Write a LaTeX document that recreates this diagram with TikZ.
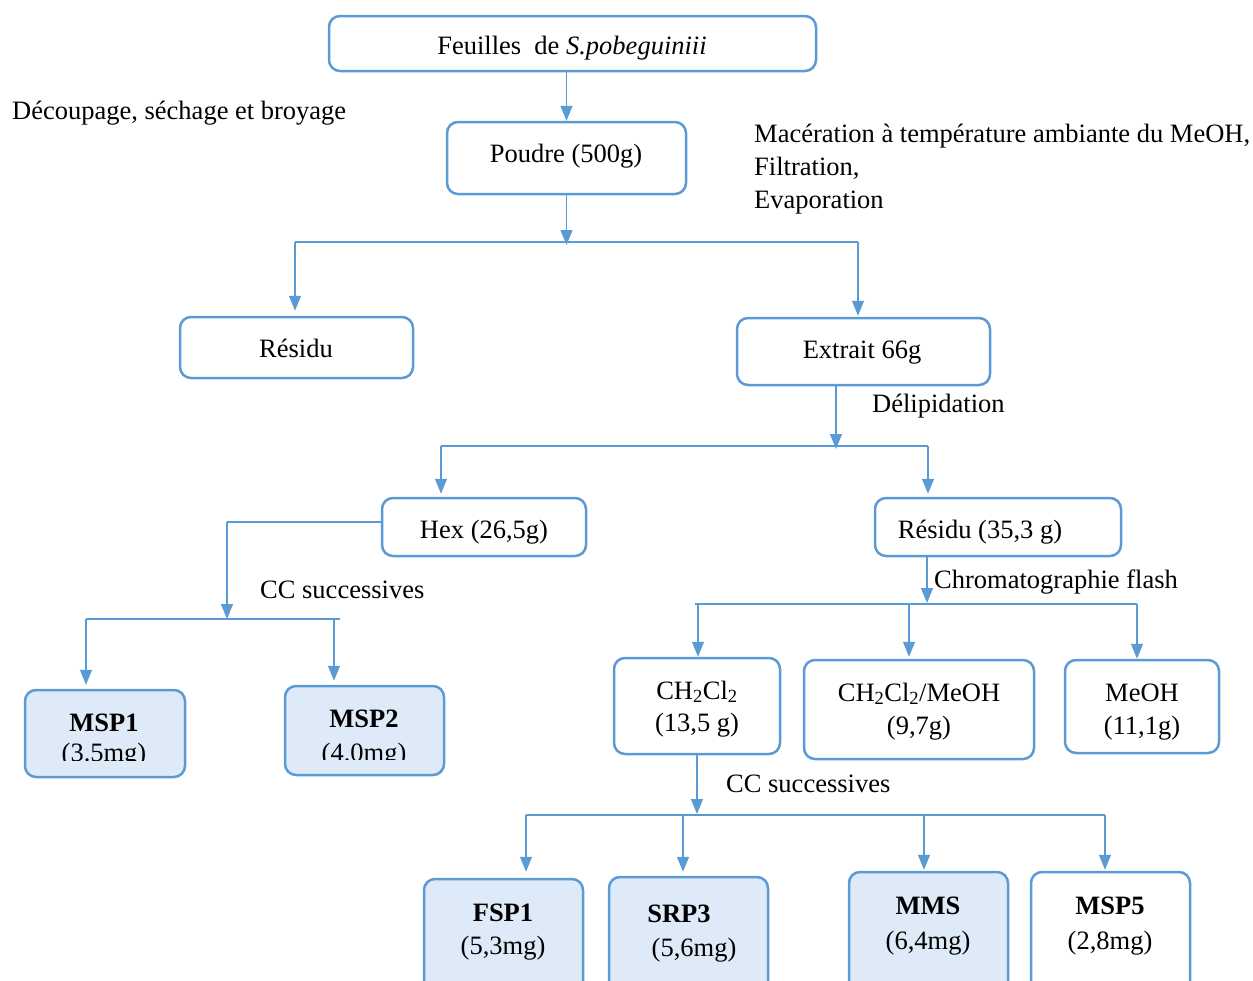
\documentclass[tikz,border=0pt]{standalone}
\usepackage{fontspec}
\setmainfont{Liberation Serif}
\usetikzlibrary{arrows.meta}
\definecolor{bl}{HTML}{5B9BD5}
\definecolor{lb}{HTML}{DEEAF7}
\begin{document}
\begin{tikzpicture}[x=1pt,y=-1pt,
  font=\fontsize{26.5}{32}\selectfont,
  box/.style={draw=bl,line width=2.5pt,rounded corners=11pt,inner sep=0pt,fill=white},
  res/.style={box,fill=lb},
  con/.style={draw=bl,line width=1.3pt},
  arr/.style={con,-{Triangle[length=15pt,width=12pt]}},
  tb/.style={inner sep=0pt,anchor=base},
  bt/.style={tb,font=\fontsize{26.5}{32}\selectfont\bfseries},
  lbl/.style={inner sep=0pt,anchor=base west}]
\useasboundingbox (0,0) rectangle (1253,980);

% --- boxes ---
\node[box,minimum width=487pt,minimum height=55pt] (feuilles) at (572.5,43.5) {};
\node[box,minimum width=239pt,minimum height=72pt] (poudre) at (566.5,158) {};
\node[box,minimum width=233pt,minimum height=61pt] (residu) at (296.5,347.5) {};
\node[box,minimum width=253pt,minimum height=67pt] (extrait) at (863.5,351.5) {};
\node[box,minimum width=204pt,minimum height=58pt] (hex) at (484,527) {};
\node[box,minimum width=246pt,minimum height=58pt] (residu2) at (998,527) {};
\node[res,minimum width=160pt,minimum height=87pt] (msp1) at (105,733.5) {};
\node[res,minimum width=159pt,minimum height=89pt] (msp2) at (364.5,730.5) {};
\node[box,minimum width=166pt,minimum height=96pt] (ch) at (697,706) {};
\node[box,minimum width=230pt,minimum height=99pt] (chm) at (919,709.5) {};
\node[box,minimum width=154pt,minimum height=93pt] (meoh) at (1142,706.5) {};
\node[res,minimum width=159pt,minimum height=121pt] (fsp1) at (503.5,939.5) {};
\node[res,minimum width=159pt,minimum height=123pt] (srp3) at (688.5,938.5) {};
\node[res,minimum width=159pt,minimum height=128pt] (mms) at (928.5,936) {};
\node[box,minimum width=159pt,minimum height=128pt] (msp5) at (1110.5,936) {};

% --- box texts ---
\node[tb] (feuillest) at (572,54) {Feuilles\ \ de \textit{S.pobeguiniii}};
\node[tb] (poudret) at (566,162) {Poudre (500g)};
\node[tb] (residut) at (296,357) {Résidu};
\node[tb] (extraitt) at (862,358) {Extrait 66g};
\node[tb] (hext) at (484,538) {Hex (26,5g)};
\node[tb] (residu2t) at (980,538) {Résidu (35,3 g)};

\node[bt] (msp1a) at (104,731) {MSP1};
\node[bt] (msp2a) at (364,727) {MSP2};
\begin{scope}
  \clip (0,600) rectangle (200,760);
  \node[tb] (msp1b) at (104,761) {(3.5mg)};
\end{scope}
\begin{scope}
  \clip (260,600) rectangle (460,759);
  \node[tb] (msp2b) at (364,761.5) {(4.0mg)};
\end{scope}

\node[tb] (cha) at (697,699) {CH\textsubscript{2}Cl\textsubscript{2}};
\node[tb] (chb) at (697,731) {(13,5 g)};
\node[tb] (chma) at (919,701) {CH\textsubscript{2}Cl\textsubscript{2}/MeOH};
\node[tb] (chmb) at (919,734) {(9,7g)};
\node[tb] (meoha) at (1142,701) {MeOH};
\node[tb] (meohb) at (1142,734) {(11,1g)};

\node[bt] (fsp1a) at (503,921) {FSP1};
\node[tb] (fsp1b) at (503,954) {(5,3mg)};
\node[bt] (srp3a) at (679,922) {SRP3};
\node[tb] (srp3b) at (694,956) {(5,6mg)};
\node[bt] (mmsa) at (928,914) {MMS};
\node[tb] (mmsb) at (928,949) {(6,4mg)};
\node[bt] (msp5a) at (1110,914) {MSP5};
\node[tb] (msp5b) at (1110,949) {(2,8mg)};

% --- step labels ---
\node[lbl] (l1) at (12,119) {Découpage, séchage et broyage};
\node[lbl] (l2a) at (754,142) {Macération à température ambiante du MeOH,};
\node[lbl] (l2b) at (754,175) {Filtration,};
\node[lbl] (l2c) at (754,208) {Evaporation};
\node[lbl] (l3) at (872,412) {Délipidation};
\node[lbl] (l4) at (260,598) {CC successives};
\node[lbl] (l5) at (934,588) {Chromatographie flash};
\node[lbl] (l6) at (726,792) {CC successives};

% --- junction points ---
\coordinate (j1) at (566.5,245);
\coordinate (j1L) at (295,242);
\coordinate (j1R) at (858,242);
\coordinate (j2) at (836,449);
\coordinate (j2L) at (441,446);
\coordinate (j2R) at (928,446);
\coordinate (k1) at (227,522);
\coordinate (k2) at (227,619);
\coordinate (k2L) at (86,619);
\coordinate (k2R) at (334,619);
\coordinate (k2E) at (340,619);
\coordinate (m1) at (927,603);
\coordinate (m1L) at (698,604);
\coordinate (m1M) at (909,604);
\coordinate (m1R) at (1137,604);
\coordinate (n1) at (697,814);
\coordinate (n1A) at (526,815);
\coordinate (n1B) at (683,815);
\coordinate (n1C) at (924,815);
\coordinate (n1D) at (1105,815);

% --- connectors ---
\draw[arr] (feuilles.south -| poudre) -- (poudre.north);
\draw[arr] (poudre.south) -- (j1);
\draw[con] (j1L) -- (j1R);
\draw[arr] (j1L) -- ([yshift=5pt]j1L |- residu.north);
\draw[arr] (j1R) -- ([yshift=1pt]j1R |- extrait.north);

\draw[arr] (extrait.south -| j2) -- (j2);
\draw[con] (j2L) -- (j2R);
\draw[arr] (j2L) -- ([yshift=3pt]j2L |- hex.north);
\draw[arr] (j2R) -- ([yshift=3pt]j2R |- residu2.north);

\draw[con] (hex.west |- k1) -- (k1);
\draw[arr] (k1) -- (k2);
\draw[con] (k2L) -- (k2E);
\draw[arr] (k2L) -- ([yshift=4pt]k2L |- msp1.north);
\draw[arr] (k2R) -- ([yshift=4pt]k2R |- msp2.north);

\draw[arr] (residu2.south -| m1) -- (m1);
\draw[con] ([xshift=-3pt]m1L) -- (m1R);
\draw[arr] (m1L) -- (m1L |- ch.north);
\draw[arr] (m1M) -- ([yshift=2pt]m1M |- chm.north);
\draw[arr] (m1R) -- (m1R |- meoh.north);

\draw[arr] (ch.south) -- (n1);
\draw[con] (n1A) -- (n1D);
\draw[arr] (n1A) -- ([yshift=6pt]n1A |- fsp1.north);
\draw[arr] (n1B) -- ([yshift=4pt]n1B |- srp3.north);
\draw[arr] (n1C) -- ([yshift=1pt]n1C |- mms.north);
\draw[arr] (n1D) -- ([yshift=1pt]n1D |- msp5.north);
\end{tikzpicture}
\end{document}
